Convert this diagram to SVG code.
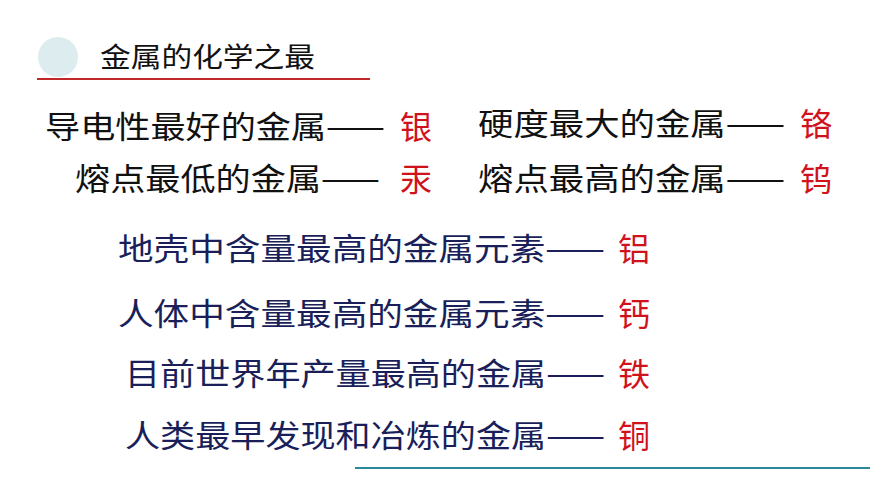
<svg xmlns="http://www.w3.org/2000/svg" width="870" height="489" viewBox="0 0 870 489">
<style>
text{font-family:"Noto Sans CJK SC","Noto Sans CJK JP",sans-serif}
.k{fill:#111;font-size:31px}
.b{fill:#1a1f5a;font-size:31px}
.r{fill:#d0121b;font-size:32px}
</style>
<rect width="870" height="489" fill="#fff"/>
<circle cx="58" cy="57" r="20" fill="#dcecef"/>
<text x="100" y="67" font-size="27" fill="#111" textLength="215" lengthAdjust="spacingAndGlyphs">金属的化学之最</text>
<line x1="37" y1="79" x2="370" y2="79" stroke="#c0282a" stroke-width="2"/>
<text class="k" x="45" y="138" textLength="340" lengthAdjust="spacingAndGlyphs">导电性最好的金属——</text>
<text class="r" x="400" y="139">银</text>
<text class="k" x="75" y="190" textLength="305" lengthAdjust="spacingAndGlyphs">熔点最低的金属——</text>
<text class="r" x="400" y="191">汞</text>
<text class="k" x="478" y="135" textLength="307" lengthAdjust="spacingAndGlyphs">硬度最大的金属——</text>
<text class="r" x="800" y="136">铬</text>
<text class="k" x="478" y="190" textLength="307" lengthAdjust="spacingAndGlyphs">熔点最高的金属——</text>
<text class="r" x="800" y="191">钨</text>
<text class="b" x="118" y="260" textLength="487" lengthAdjust="spacingAndGlyphs">地壳中含量最高的金属元素——</text>
<text class="r" x="618" y="261">铝</text>
<text class="b" x="118" y="325" textLength="487" lengthAdjust="spacingAndGlyphs">人体中含量最高的金属元素——</text>
<text class="r" x="618" y="326">钙</text>
<text class="b" x="125" y="385" textLength="480" lengthAdjust="spacingAndGlyphs">目前世界年产量最高的金属——</text>
<text class="r" x="618" y="386">铁</text>
<text class="b" x="125" y="447" textLength="480" lengthAdjust="spacingAndGlyphs">人类最早发现和冶炼的金属——</text>
<text class="r" x="618" y="448">铜</text>
<line x1="355" y1="468" x2="870" y2="468" stroke="#2a8a9a" stroke-width="2"/>
</svg>
